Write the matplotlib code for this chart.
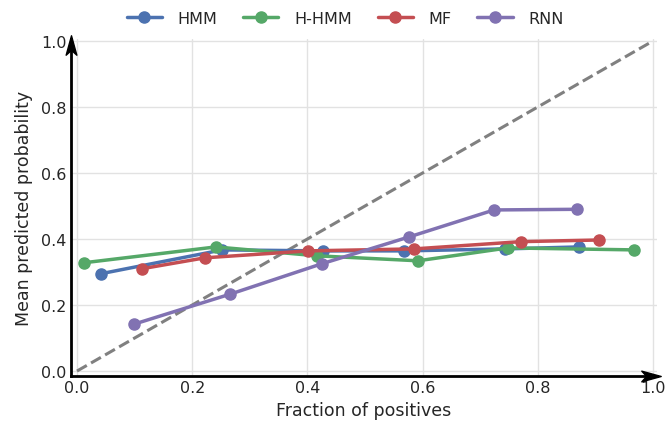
import matplotlib
matplotlib.use('Agg')
import matplotlib.pyplot as plt
from matplotlib.path import Path
import numpy as np
import seaborn as sns

sns.set_style('whitegrid')
plt.rcParams['font.family'] = ['DejaVu Sans']

# calibration curves (fraction of positives, mean predicted probability)
models = ['HMM', 'H-HMM', 'MF', 'RNN']
colors = ['#4C72B0', '#55A868', '#C44E52', '#8172B2']

hmm_x = [0.042, 0.252, 0.427, 0.568, 0.743, 0.872]
hmm_y = [0.295, 0.367, 0.364, 0.364, 0.370, 0.376]

hhmm_x = [0.012, 0.241, 0.417, 0.592, 0.748, 0.967]
hhmm_y = [0.328, 0.376, 0.349, 0.334, 0.373, 0.367]

mf_x = [0.113, 0.222, 0.401, 0.585, 0.771, 0.906]
mf_y = [0.310, 0.343, 0.364, 0.370, 0.392, 0.397]

rnn_x = [0.099, 0.266, 0.425, 0.576, 0.724, 0.868]
rnn_y = [0.142, 0.233, 0.325, 0.406, 0.488, 0.490]

xs = [hmm_x, hhmm_x, mf_x, rnn_x]
ys = [hmm_y, hhmm_y, mf_y, rnn_y]

fig = plt.figure(figsize=(6.66, 4.31), dpi=100)
ax = fig.add_axes([0.1066, 0.1253, 0.88, 0.782])

ax.plot([0, 1], [0, 1], '--', color='gray', lw=2.2, zorder=1)
for name, c, x, y in zip(models, colors, xs, ys):
    ax.plot(x, y, '-o', color=c, lw=2.5, ms=8, label=name, zorder=3)

ax.set_xlim(-0.0104, 1.007)
ax.set_ylim(-0.015, 1.006)
ax.set_xticks(np.arange(0, 1.01, 0.2))
ax.set_yticks(np.arange(0, 1.01, 0.2))
ax.tick_params(labelsize=11.5, pad=3, length=0)
ax.grid(color='#e2e2e2', lw=1)

for side in ['top', 'right']:
    ax.spines[side].set_visible(False)
for side in ['left', 'bottom']:
    ax.spines[side].set_color('black')
    ax.spines[side].set_linewidth(2)

# stealth-style arrow heads at the ends of the axis lines
right_head = Path([(1, 0), (-1, 0.55), (-0.5, 0), (-1, -0.55), (1, 0)],
                  [Path.MOVETO, Path.LINETO, Path.LINETO, Path.LINETO, Path.CLOSEPOLY])
up_head = Path([(0, 1), (0.55, -1), (0, -0.5), (-0.55, -1), (0, 1)],
               [Path.MOVETO, Path.LINETO, Path.LINETO, Path.LINETO, Path.CLOSEPOLY])
ax.plot(0.9898, 0, marker=right_head, ms=14, color='black',
        transform=ax.transAxes, clip_on=False, zorder=5)
ax.plot(0, 0.982, marker=up_head, ms=14, color='black',
        transform=ax.transAxes, clip_on=False, zorder=5)

ax.set_xlabel('Fraction of positives', fontsize=12.5, labelpad=4)
ax.set_ylabel('Mean predicted probability', fontsize=12.5, labelpad=6)

ax.legend(loc='lower center', bbox_to_anchor=(0.468, 1.005), ncol=4,
          frameon=False, fontsize=11.5, handlelength=2.2, columnspacing=1.6,
          handletextpad=1.0, borderaxespad=0.3)

fig.savefig('out.png', dpi=100)
